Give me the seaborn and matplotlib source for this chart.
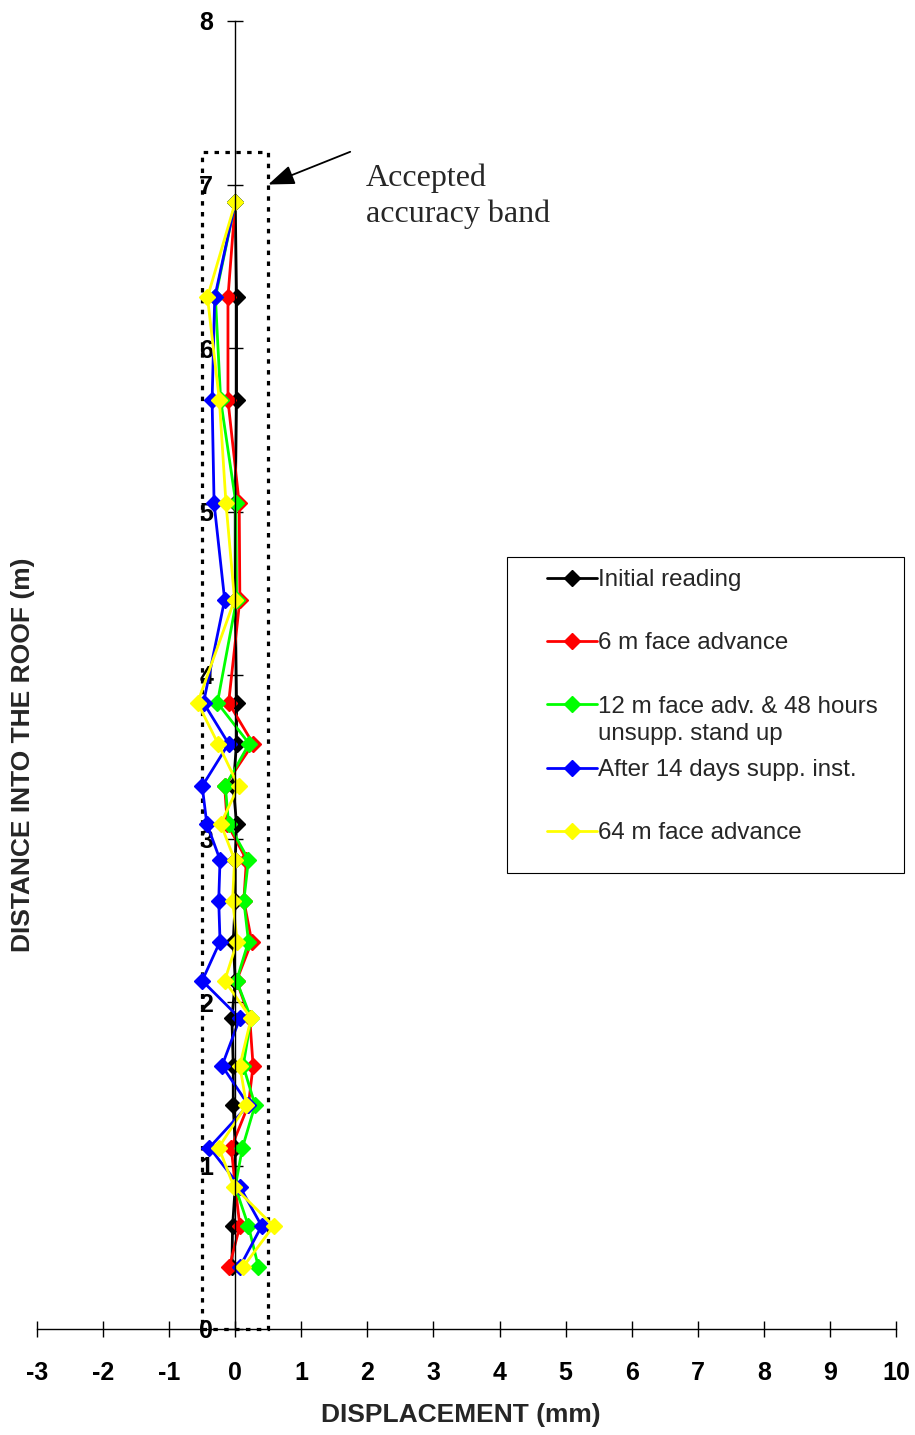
import matplotlib
matplotlib.use("Agg")
import matplotlib.pyplot as plt
import seaborn as sns
from matplotlib.patches import Rectangle

# ---------------- data ----------------
depth = [6.89, 6.31, 5.68, 5.05, 4.46, 3.83, 3.58, 3.32, 3.09, 2.87,
         2.62, 2.37, 2.13, 1.90, 1.61, 1.37, 1.11, 0.87, 0.63, 0.38]

initial_reading = [0.0, 0.02, 0.02, 0.0, 0.0, 0.02, 0.02, -0.03, 0.02, 0.0,
                   0.0, -0.03, 0.0, -0.05, -0.03, -0.03, 0.0, 0.0, -0.04, -0.05]
face_6m = [0.0, -0.11, -0.11, 0.06, 0.07, -0.10, 0.27, -0.16, -0.12, 0.17,
           0.13, 0.25, 0.02, 0.22, 0.27, 0.20, -0.06, 0.0, 0.07, -0.09]
face_12m = [0.0, -0.30, -0.22, 0.01, 0.02, -0.27, 0.21, -0.15, -0.10, 0.20,
            0.13, 0.20, 0.02, 0.24, 0.12, 0.30, 0.11, 0.0, 0.20, 0.35]
days_14 = [0.0, -0.31, -0.35, -0.32, -0.16, -0.48, -0.10, -0.50, -0.43, -0.23,
           -0.25, -0.23, -0.50, 0.07, -0.20, 0.20, -0.39, 0.07, 0.40, 0.07]
face_64m = [0.0, -0.42, -0.24, -0.14, -0.01, -0.57, -0.26, 0.05, -0.22, -0.01,
            -0.04, 0.03, -0.16, 0.24, 0.07, 0.17, -0.25, -0.02, 0.58, 0.12]

series_values = [initial_reading, face_6m, face_12m, days_14, face_64m]
series_labels = ["Initial reading", "6 m face advance",
                 "12 m face adv. & 48 hours", "After 14 days supp. inst.",
                 "64 m face advance"]
label_extra_line = "unsupp. stand up"
series_colors = ["#000000", "#FF0000", "#00FF00", "#0000FF", "#FFFF00"]

x_ticks = list(range(-3, 11))
y_ticks = list(range(0, 9))
band_half_width = 0.5
band_top = 7.2

# ---------------- style ----------------
sns.set_style("white")
plt.rcParams["font.family"] = ["Liberation Sans", "DejaVu Sans"]

W, H = 915, 1435
fig = plt.figure(figsize=(W / 100, H / 100), dpi=100)
ax = fig.add_axes([37 / W, 1 - 1329 / H, 859 / W, 1308 / H])

for vals, lab, col in zip(series_values, series_labels, series_colors):
    sns.lineplot(x=vals, y=depth, ax=ax, color=col, marker="D",
                 markersize=7.8, mec=col, mew=1, linewidth=2.0,
                 sort=False, estimator=None, orient="y", label=lab)

for s in ["top", "right"]:
    ax.spines[s].set_visible(False)
ax.spines["left"].set_position(("data", 0))
for s in ["left", "bottom"]:
    ax.spines[s].set_color("black")
    ax.spines[s].set_linewidth(1)

ax.set_xlim(-3, 10)
ax.set_ylim(0, 8)
ax.set_xticks(x_ticks)
ax.set_yticks(y_ticks)
ax.set_xticklabels([str(t) for t in x_ticks], fontweight="bold")
ax.set_yticklabels([str(t) for t in y_ticks], fontweight="bold")

ax.tick_params(axis="both", direction="inout", length=12.2, width=1,
               color="black", labelsize=18, labelcolor="black",
               bottom=True, left=True, top=False, right=False)
ax.tick_params(axis="y", pad=9.7)
ax.tick_params(axis="x", pad=17)
ax.grid(False)

# accepted accuracy band
ax.add_patch(Rectangle((-band_half_width, 0), 2 * band_half_width, band_top,
                       fill=False, ec="black", lw=2.3, ls=(0, (1.4, 2.0)),
                       clip_on=False, zorder=1))
ax.annotate("", xy=(band_half_width, 7.0), xytext=(1.74, 7.2),
            arrowprops=dict(arrowstyle="-|>,head_length=0.8,head_width=0.3",
                            color="black", lw=1.3, shrinkA=0, shrinkB=0,
                            mutation_scale=20))
ax.text(1.98, 7.13, "Accepted\naccuracy band", family="Liberation Serif",
        fontsize=23, va="top", ha="left", linespacing=1.3)

# axis labels
ax.set_xlabel("DISPLACEMENT (mm)", fontsize=19, fontweight="bold", va="center")
ax.xaxis.set_label_coords((461 - 37) / 859, (1329 - 1415) / 1308)
ax.set_ylabel("DISTANCE INTO THE ROOF (m)", fontsize=19, fontweight="bold",
              va="center")
ax.yaxis.set_label_coords((23 - 37) / 859, (1329 - 755) / 1308)

# legend
fig.patches.append(Rectangle((507 / W, 1 - 873 / H), 397 / W, 316 / H,
                             transform=fig.transFigure, fill=False,
                             ec="black", lw=0.8))
handles, labels = ax.get_legend_handles_labels()
leg = ax.legend(handles, labels, loc="upper left",
                bbox_to_anchor=(547 / W, 1 - 569 / H),
                bbox_transform=fig.transFigure, frameon=False, borderpad=0,
                borderaxespad=0, handlelength=2.05, handletextpad=0.05,
                labelspacing=1.71, fontsize=17.4)
fig.canvas.draw()
for t in ax.get_yticklabels() + ax.get_xticklabels():
    t.set_fontweight("bold")
bb = leg.get_texts()[2].get_window_extent(fig.canvas.get_renderer())
fig.text(bb.x0 / W, (bb.y0 - 27) / H, label_extra_line, fontsize=17.4,
         ha="left", va="bottom")

fig.savefig("out.png", dpi=100)
